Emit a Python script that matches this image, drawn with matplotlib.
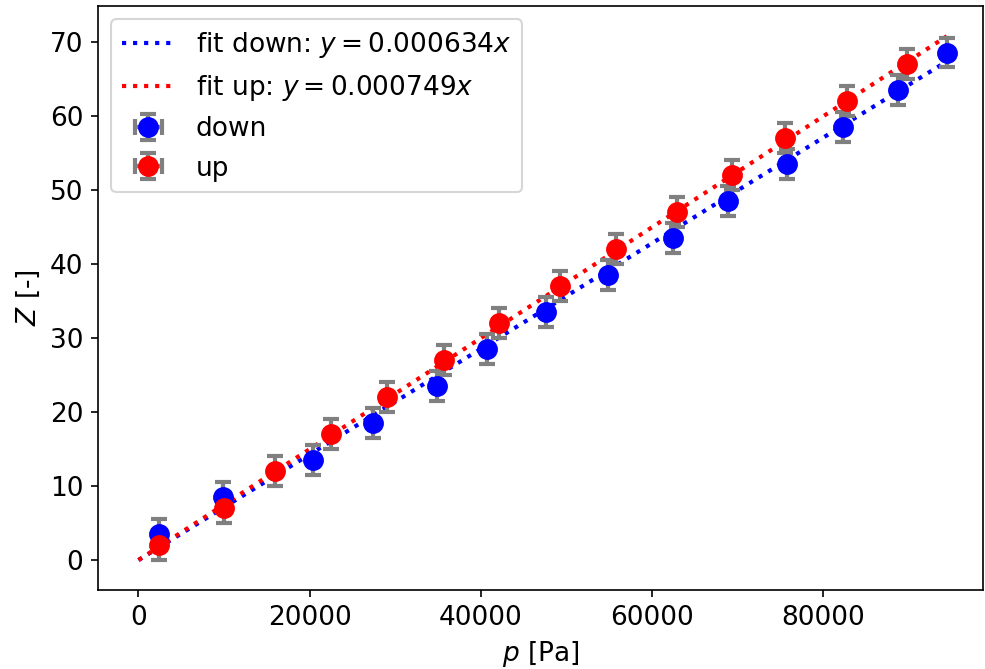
import matplotlib
matplotlib.use("Agg")
import matplotlib.pyplot as plt
import numpy as np

plt.rcParams["font.size"] = 12.7

# measured pressures [Pa] and counts Z [-]
p_down = [2350, 9830, 20420, 27430, 34850, 40740, 47560, 54880,
          62390, 68820, 75780, 82320, 88740, 94430]
z_down = [3.5, 8.5, 13.5, 18.5, 23.5, 28.5, 33.5, 38.5,
          43.5, 48.5, 53.5, 58.5, 63.5, 68.5]
p_up = [2350, 9950, 15940, 22480, 29030, 35720, 42110, 49230,
        55810, 62930, 69360, 75550, 82790, 89800]
z_up = [2, 7, 12, 17, 22, 27, 32, 37, 42, 47, 52, 57, 62, 67]
z_err = 2
p_err = 300

# fit slopes as drawn / as written in the legend
k_down = 0.000713
k_up = 0.000749
label_down = r"fit down: $y = 0.000634x$"
label_up = r"fit up: $y = 0.000749x$"

fig = plt.figure(figsize=(985 / 150, 669 / 150), dpi=150)
ax = fig.add_axes([0.0995, 0.118, 0.8985, 0.873])

xfit = np.array([0, max(p_down)])
ax.plot(xfit, k_down * xfit, ":", color="blue", lw=2, label=label_down)
ax.plot(xfit, k_up * xfit, ":", color="red", lw=2, label=label_up)

ax.errorbar(p_down, z_down, yerr=z_err, xerr=p_err, fmt="o", color="blue",
            ms=9, ecolor="gray", elinewidth=2, capsize=4, capthick=2,
            label="down")
ax.errorbar(p_up, z_up, yerr=z_err, xerr=p_err, fmt="o", color="red",
            ms=9, ecolor="gray", elinewidth=2, capsize=4, capthick=2,
            label="up")

ax.set_xlim(-4730, 98660)
ax.set_ylim(-4.05, 74.8)
ax.set_xticks([0, 20000, 40000, 60000, 80000])
ax.set_xlabel(r"$p$ [Pa]")
ax.set_ylabel(r"$Z$ [-]")
ax.legend(loc="upper left")

fig.savefig("out.png", dpi=150)
